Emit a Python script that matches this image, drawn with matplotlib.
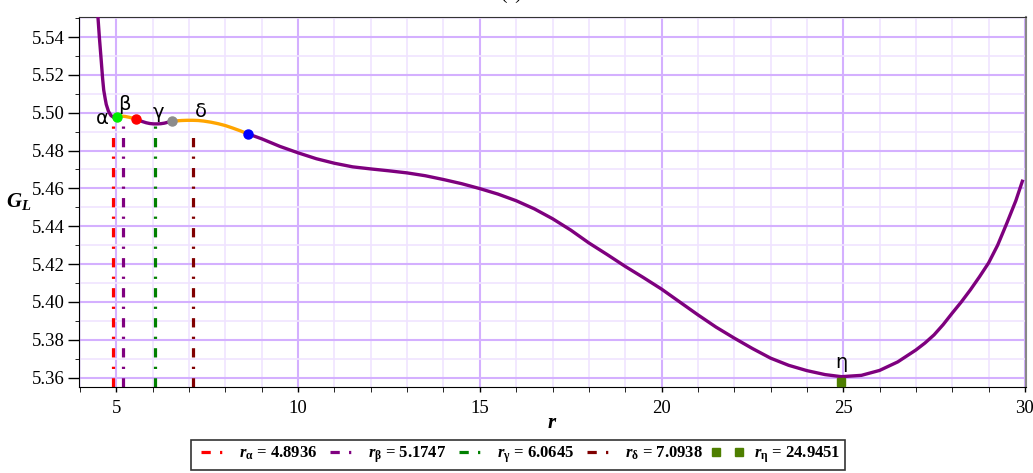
import matplotlib
matplotlib.use("Agg")
import matplotlib.pyplot as plt
from matplotlib.lines import Line2D
from matplotlib.ticker import MultipleLocator, FormatStrFormatter

plt.rcParams['font.family'] = ['Liberation Serif', 'DejaVu Sans']
plt.rcParams['mathtext.fontset'] = 'custom'
plt.rcParams['mathtext.rm'] = 'Liberation Serif:bold'
plt.rcParams['mathtext.it'] = 'Liberation Serif:italic:bold'
plt.rcParams['mathtext.bf'] = 'Liberation Serif:bold'

# ---- data ----
r_p1 = [4.47, 4.49, 4.53, 4.58, 4.62, 4.65, 4.69, 4.72, 4.78, 4.85, 4.92, 4.99, 5.02]
g_p1 = [5.560, 5.551, 5.540, 5.528, 5.518, 5.512, 5.5075, 5.5044, 5.5008, 5.4985, 5.4976, 5.4973, 5.4976]
r_o1 = [5.02, 5.08, 5.15, 5.25, 5.35, 5.45, 5.53]
g_o1 = [5.4976, 5.4980, 5.4982, 5.4980, 5.4976, 5.4971, 5.4968]
r_p2 = [5.53, 5.62, 5.72, 5.82, 5.92, 6.02, 6.12, 6.22, 6.32, 6.42, 6.52]
g_p2 = [5.4968, 5.4960, 5.4953, 5.4947, 5.4943, 5.4941, 5.4941, 5.4942, 5.4945, 5.4950, 5.4954]
r_o2 = [6.52, 6.65, 6.80, 6.95, 7.10, 7.25, 7.40, 7.60, 7.80, 8.00, 8.20, 8.40, 8.61]
g_o2 = [5.4954, 5.4957, 5.4959, 5.4960, 5.4960, 5.4959, 5.4956, 5.4950, 5.4942, 5.4932, 5.4919, 5.4905, 5.4889]
r_p3 = [8.61, 9.0, 9.5, 10.0, 10.5, 11.0, 11.5, 12.0, 12.5, 13.0, 13.5, 14.0, 14.5, 15.0,
        15.5, 16.0, 16.5, 17.0, 17.5, 18.0, 18.5, 19.0, 19.5, 20.0, 20.5, 21.0, 21.5, 22.0,
        22.5, 23.0, 23.5, 24.0, 24.5, 24.95, 25.5, 26.0, 26.5, 27.0, 27.25, 27.5, 27.75, 28.0,
        28.25, 28.5, 28.75, 29.0, 29.25, 29.5, 29.75, 29.93]
g_p3 = [5.4889, 5.4862, 5.4822, 5.4788, 5.4757, 5.4733, 5.4714, 5.4703, 5.4693, 5.4682, 5.4667,
        5.4647, 5.4625, 5.4599, 5.4570, 5.4535, 5.4492, 5.4440, 5.4380, 5.4312, 5.4251, 5.4188,
        5.4129, 5.4068, 5.4000, 5.3932, 5.3867, 5.3809, 5.3754, 5.3703, 5.3665, 5.3637, 5.3616,
        5.3605, 5.3612, 5.3638, 5.3683, 5.3746, 5.3783, 5.3826, 5.3880, 5.3941, 5.4000, 5.4064,
        5.4133, 5.4206, 5.4300, 5.4415, 5.4535, 5.4638]

dot_r = [5.02, 5.53, 6.52, 8.61]
dot_g = [5.4976, 5.4968, 5.4954, 5.4889]
dot_colors = ['#00EE00', '#FF0000', '#8C8C8C', '#0000FF']

vline_r = [4.8936, 5.1747, 6.0645, 7.0938]
vline_top = [5.4936, 5.4936, 5.4941, 5.4910]
vline_colors = ['#FF0000', '#800080', '#008000', '#800000']

eta_r = 24.9451
eta_g = 5.3578

ann_text = ['α', 'β', 'γ', 'δ', 'η']
ann_r = [4.60, 5.21, 6.16, 7.33, 24.94]
ann_g = [5.4972, 5.5043, 5.5002, 5.5008, 5.3680]

legend_labels = [r'$r_{\mathrm{\alpha}}$ = 4.8936', r'$r_{\mathrm{\beta}}$ = 5.1747',
                 r'$r_{\mathrm{\gamma}}$ = 6.0645', r'$r_{\mathrm{\delta}}$ = 7.0938',
                 r'$r_{\mathrm{\eta}}$ = 24.9451']

# ---- figure ----
fig = plt.figure(figsize=(10.33, 4.73), dpi=100)
ax = fig.add_axes([79/1033, 1-386.7/473, (1026-79)/1033, (386.7-17)/473])

ylo, yhi = 5.3552, 5.5506
ax.set_xlim(3.97, 30.03)
ax.set_ylim(ylo, yhi)

ax.xaxis.set_major_locator(MultipleLocator(5))
ax.xaxis.set_minor_locator(MultipleLocator(1))
ax.yaxis.set_major_locator(MultipleLocator(0.02))
ax.yaxis.set_minor_locator(MultipleLocator(0.01))
ax.yaxis.set_major_formatter(FormatStrFormatter('%.2f'))

ax.grid(which='major', color='#D4B0FF', linewidth=1.5, zorder=0)
ax.grid(which='minor', color='#F0E4FF', linewidth=1.2, zorder=0)
ax.set_axisbelow(True)

ax.tick_params(axis='both', which='major', labelsize=13.5, direction='out', width=1, colors='black')
ax.tick_params(axis='y', which='major', length=8, pad=2)
ax.tick_params(axis='y', which='minor', length=3)
ax.tick_params(axis='x', which='major', length=3.6, pad=6)
ax.tick_params(axis='x', which='minor', length=3.6)

ax.spines['right'].set_color('#888888')
ax.spines['right'].set_linewidth(1.5)
ax.spines['top'].set_color('#333333')

dash = (0, (2.9, 2.9, 0.7, 2.9))
for r, top, c in zip(vline_r, vline_top, vline_colors):
    ax.plot([r, r], [ylo, top], color=c, linewidth=2.3, linestyle=dash, zorder=2)

purple = '#7E007E'
orange = '#FFA500'
lw = 2.4
ax.plot(r_p1, g_p1, color=purple, lw=lw, zorder=3)
ax.plot(r_o1, g_o1, color=orange, lw=lw, zorder=3)
ax.plot(r_p2, g_p2, color=purple, lw=lw, zorder=3)
ax.plot(r_o2, g_o2, color=orange, lw=lw, zorder=3)
ax.plot(r_p3, g_p3, color=purple, lw=lw, zorder=3)

for r, g, c in zip(dot_r, dot_g, dot_colors):
    ax.plot([r], [g], 'o', color=c, markersize=6.5, zorder=4)

ax.plot([eta_r], [eta_g], 's', color='#4E7F00', markersize=5.5, zorder=4, clip_on=False)

for t, r, g in zip(ann_text, ann_r, ann_g):
    ax.text(r, g, t, fontsize=14, fontfamily='DejaVu Sans', ha='center', va='center', zorder=5)

ax.set_xlabel('$r$', fontsize=15)
ax.xaxis.set_label_coords((552-79)/947, -(423-386.7)/369.7)
ax.xaxis.label.set_va('center')
ax.set_ylabel('$G_L$', fontsize=15, rotation=0, ha='center', va='center')
ax.yaxis.set_label_coords((19-79)/947, 0.5)

fig.text(511/1033, 1 + 1/473, '(a)', fontsize=14, ha='center', va='baseline')

handles = [Line2D([], [], color=c, lw=2.3, linestyle=dash) for c in vline_colors]
handles.append(Line2D([], [], color='#4E7F00', marker='s', linestyle='none', markersize=5.5))
leg = fig.legend(handles, legend_labels, loc='center', bbox_to_anchor=(518/1033, 1-455/473),
                 ncol=5, frameon=True, fancybox=False, edgecolor='black', handlelength=2.0,
                 columnspacing=0.45, handletextpad=0.6, borderpad=0.3, numpoints=2,
                 borderaxespad=0.2,
                 prop={'family': 'Liberation Serif', 'weight': 'bold', 'size': 12})
leg.get_frame().set_linewidth(1.2)

fig.savefig('out.png', dpi=100)
